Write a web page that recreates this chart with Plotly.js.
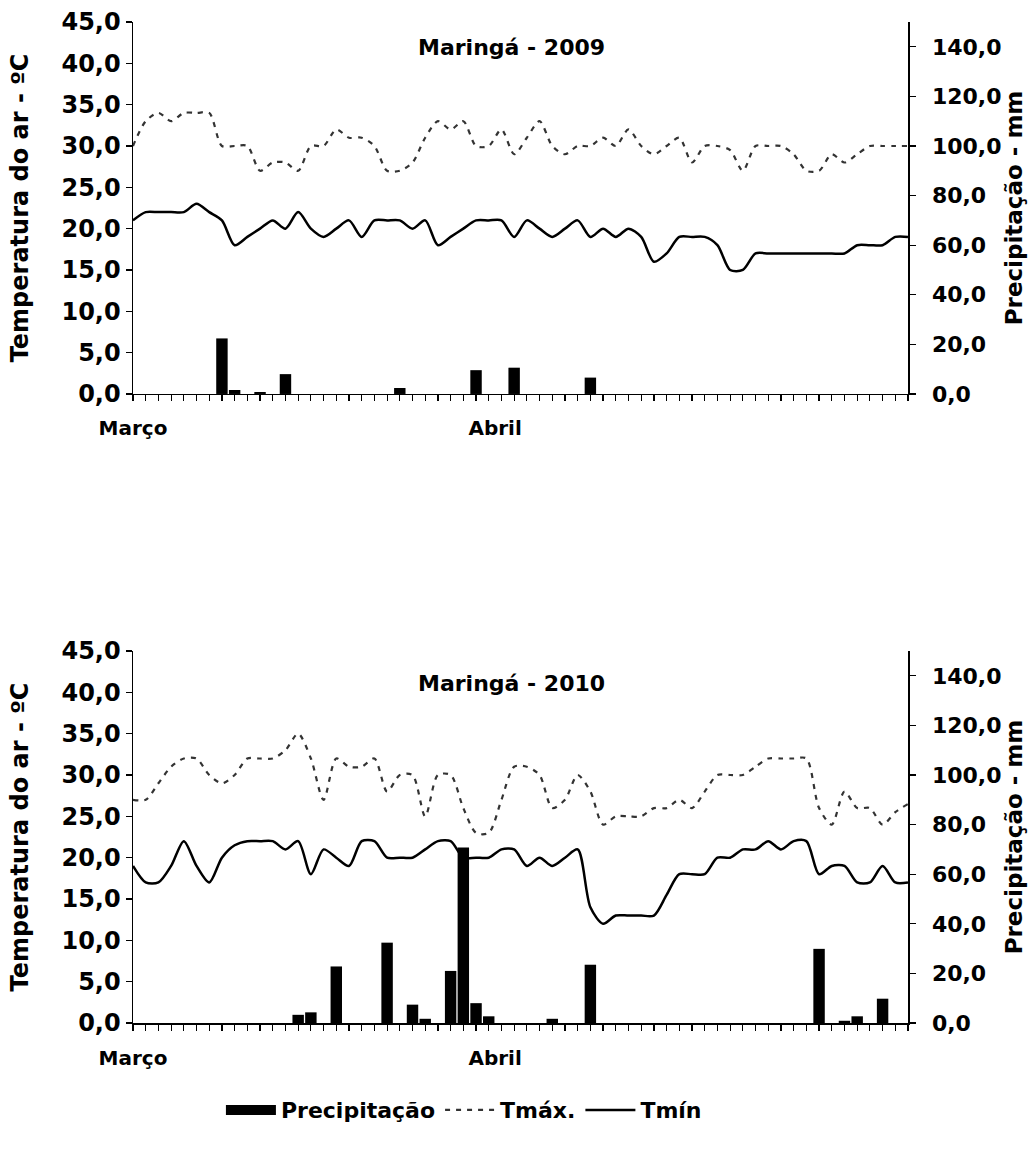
<!DOCTYPE html>
<html>
<head>
<meta charset="utf-8">
<script src="https://cdn.plot.ly/plotly-3.0.1.min.js"></script>
<style>
  html, body { margin: 0; padding: 0; background: #fff; }
  #chart { width: 1029px; height: 1155px; }
</style>
</head>
<body>
<div id="chart"></div>
<script>
// Daily series for March–April, one value per tick position on the day axis
const tmax2009 = [30,33,34,33,34,34,34,30,30,30,27,28,28,27,30,30,32,31,31,30,
                  27,27,28,31,33,32,33,30,30,32,29,31,33,30,29,30,30,31,30,32,
                  30,29,30,31,28,30,30,29.5,27,30,30,30,29,27,27,29,28,29,30,30,
                  30,30];
const tmin2009 = [21,22,22,22,22,23,22,21,18,19,20,21,20,22,20,19,20,21,19,21,
                  21,21,20,21,18,19,20,21,21,21,19,21,20,19,20,21,19,20,19,20,
                  19,16,17,19,19,19,18,15,15,17,17,17,17,17,17,17,17,18,18,18,
                  19,19];
const prec2009 = [0,0,0,0,0,0,0,22.4,1.6,0,0.8,0,8.0,0,0,0,0,0,0,0,
                  0,2.4,0,0,0,0,0,9.6,0,0,10.6,0,0,0,0,0,6.6,0,0,0,
                  0,0,0,0,0,0,0,0,0,0,0,0,0,0,0,0,0,0,0,0,
                  0,0];

const tmax2010 = [27,27,29,31,32,32,30,29,30,32,32,32,33,35,32,27,32,31,31,32,
                  28,30,30,25,30,30,26,23,23,27,31,31,30,26,27,30,28,24,25,25,
                  25,26,26,27,26,28,30,30,30,31,32,32,32,32,26,24,28,26,26,24,
                  25.5,26.5];
const tmin2010 = [19,17,17,19,22,19,17,20,21.5,22,22,22,21,22,18,21,20,19,22,22,
                  20,20,20,21,22,22,20,20,20,21,21,19,20,19,20,21,14,12,13,13,
                  13,13,15.5,18,18,18,20,20,21,21,22,21,22,22,18,19,19,17,17,19,
                  17,17];
const prec2010 = [0,0,0,0,0,0,0,0,0,0,0,0,0,3.3,4.3,0,22.8,0,0,0,
                  32.4,0,7.4,1.7,0,21.0,70.8,8.0,2.7,0,0,0,0,1.7,0,0,23.5,0,0,0,
                  0,0,0,0,0,0,0,0,0,0,0,0,0,0,29.9,0,0.9,2.7,0,9.8,
                  0,0];

const monthLabels = ['Março', 'Abril'];
const monthLabelPos = [0, 28.5];
const yearTitles = ['Maringá - 2009', 'Maringá - 2010'];
const seriesNames = ['Precipitação', 'Tmáx.', 'Tmín'];

const dayPos = tmax2009.map((_, i) => i);

const FONT = '"DejaVu Sans", "Liberation Sans", Arial, sans-serif';
const boldFont = (size) => ({ family: FONT, size: size, color: '#000', weight: 'bold' });

function panelTraces(tmax, tmin, prec, xa, yT, yP) {
  return [
    {
      type: 'scatter', mode: 'lines', x: dayPos, y: tmax, xaxis: xa, yaxis: yT,
      name: seriesNames[1], showlegend: xa === 'x', legendrank: 2,
      line: { color: '#333', width: 2.2, dash: '5px,6px', shape: 'spline', smoothing: 0.8 },
      hoverinfo: 'skip'
    },
    {
      type: 'scatter', mode: 'lines', x: dayPos, y: tmin, xaxis: xa, yaxis: yT,
      name: seriesNames[2], showlegend: xa === 'x', legendrank: 3,
      line: { color: '#000', width: 2.5, shape: 'spline', smoothing: 0.8 },
      hoverinfo: 'skip'
    },
    {
      type: 'bar', x: dayPos, y: prec, xaxis: xa, yaxis: yP,
      name: seriesNames[0], legendgroup: 'prec', showlegend: false,
      width: 0.9, marker: { color: '#000', line: { width: 0 } },
      hoverinfo: 'skip'
    }
  ];
}

// Legend key for the rainfall bars, drawn as a wide solid block
const precKey = {
  type: 'scatter', mode: 'lines', x: [null], y: [null], xaxis: 'x', yaxis: 'y2',
  name: seriesNames[0], legendgroup: 'prec', showlegend: true, legendrank: 1,
  line: { color: '#000', width: 14 }, hoverinfo: 'skip'
};

const data = [].concat(
  panelTraces(tmax2009, tmin2009, prec2009, 'x', 'y', 'y2'),
  panelTraces(tmax2010, tmin2010, prec2010, 'x2', 'y3', 'y4'),
  [precKey]
);

function dayAxis(anchor) {
  return {
    anchor: anchor,
    domain: [0, 1],
    range: [0, 61],
    showline: true, linecolor: '#000', linewidth: 1.5,
    showgrid: false, zeroline: false,
    tickmode: 'array', tickvals: monthLabelPos, ticktext: monthLabels,
    ticks: '', ticklabelstandoff: 16,
    tickfont: boldFont(20),
    minor: { tickmode: 'linear', tick0: 0, dtick: 1, ticks: 'outside', ticklen: 6,
             tickwidth: 1.2, tickcolor: '#000', showgrid: false },
    fixedrange: true
  };
}

function tempAxis(domain, anchor) {
  return {
    domain: domain, anchor: anchor,
    range: [0, 45], tickmode: 'linear', tick0: 0, dtick: 5, tickformat: '.1f',
    showline: true, linecolor: '#000', linewidth: 1.5,
    ticks: 'outside', ticklen: 6, tickwidth: 1.2, tickcolor: '#000',
    showgrid: false, zeroline: false,
    tickfont: boldFont(24),
    title: { text: 'Temperatura do ar - ºC', font: boldFont(24), standoff: 26 },
    fixedrange: true
  };
}

function precAxis(over, anchor) {
  return {
    overlaying: over, anchor: anchor, side: 'right',
    range: [0, 150], tickmode: 'linear', tick0: 0, dtick: 20, tickformat: '.1f',
    showline: true, linecolor: '#000', linewidth: 1.5,
    ticks: 'outside', ticklen: 6, tickwidth: 1.2, tickcolor: '#000',
    showgrid: false, zeroline: false,
    tickfont: boldFont(22), ticklabelstandoff: 12,
    title: { text: 'Precipitação - mm', font: boldFont(23), standoff: 4 },
    fixedrange: true
  };
}

const layout = {
  width: 1029, height: 1155,
  margin: { l: 133, r: 121, t: 22, b: 132 },
  paper_bgcolor: '#fff', plot_bgcolor: 'rgba(0,0,0,0)',
  separators: ',.',
  font: { family: FONT, color: '#000' },
  bargap: 0.05,
  xaxis: dayAxis('y'),
  xaxis2: dayAxis('y3'),
  yaxis: tempAxis([0.6284, 1], 'x'),
  yaxis2: precAxis('y', 'x'),
  yaxis3: tempAxis([0, 0.3716], 'x2'),
  yaxis4: precAxis('y3', 'x2'),
  showlegend: true,
  legend: {
    orientation: 'h', x: 0.427, xanchor: 'center', y: -0.087, yanchor: 'middle',
    font: boldFont(22), itemwidth: 50, traceorder: 'normal', bgcolor: 'rgba(0,0,0,0)'
  },
  annotations: [
    { text: yearTitles[0], xref: 'paper', yref: 'paper', x: 0.489, y: 0.9745,
      xanchor: 'center', yanchor: 'middle', showarrow: false, font: boldFont(22) },
    { text: yearTitles[1], xref: 'paper', yref: 'paper', x: 0.489, y: 0.339,
      xanchor: 'center', yanchor: 'middle', showarrow: false, font: boldFont(22) }
  ]
};

Plotly.newPlot('chart', data, layout, { displayModeBar: false, staticPlot: true });
</script>
</body>
</html>
